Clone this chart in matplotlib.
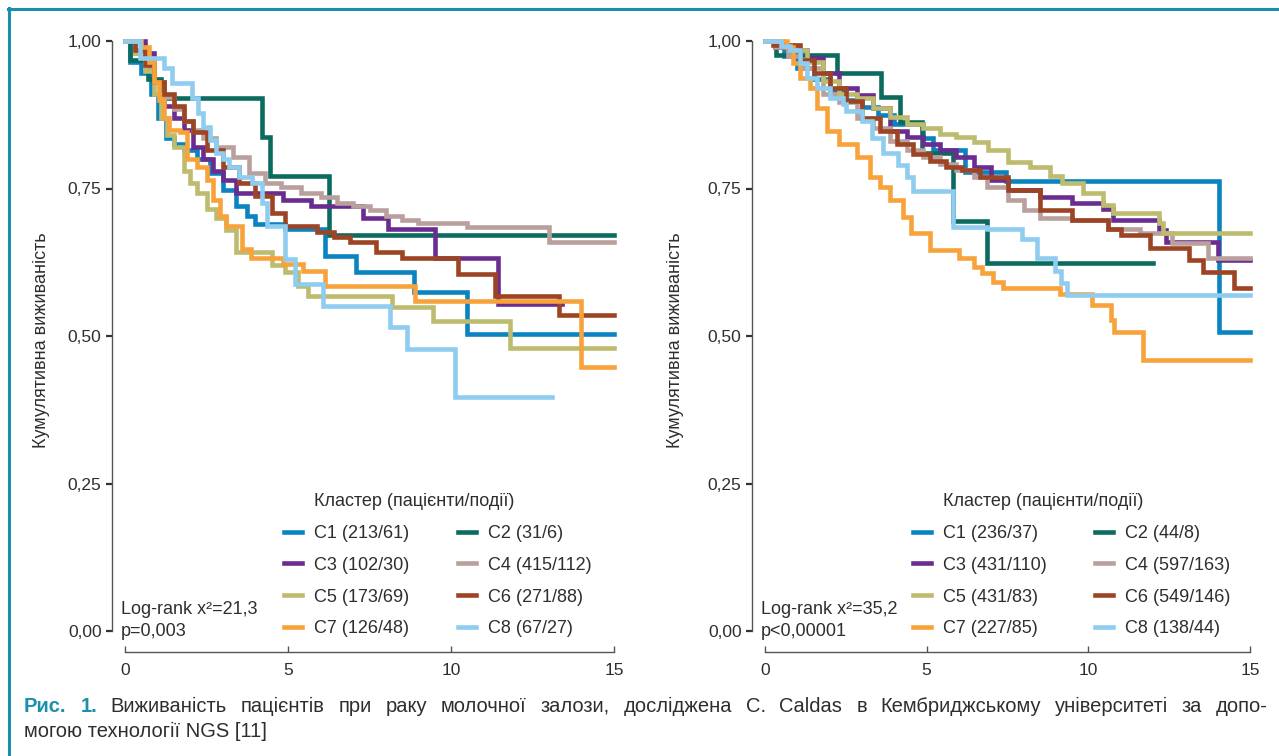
import matplotlib.pyplot as plt
from matplotlib.lines import Line2D

plt.rcParams['font.family'] = ['Liberation Sans', 'DejaVu Sans']

W, H = 1279, 756

# cluster colours (C1..C8)
colors = ['#0a84c0', '#0b6b5e', '#6a2c8e', '#b9a09c',
          '#bdbb6e', '#9c4423', '#f7a23a', '#8ecdf0']

# ---- left panel: time (years) / cumulative survival
L1_t = [0, 0.15, 0.5, 0.8, 1.0, 1.25, 1.5, 1.8, 2.2, 2.6, 3.0, 3.4, 3.75, 4.0, 4.9, 6.15, 7.1, 8.85, 10.5, 15]
L1_s = [1.0, 0.965, 0.945, 0.91, 0.87, 0.835, 0.825, 0.815, 0.80, 0.777, 0.748, 0.72, 0.703, 0.69, 0.682, 0.636, 0.608, 0.574, 0.503, 0.503]
L2_t = [0, 0.15, 0.7, 1.1, 4.2, 4.45, 6.25, 15]
L2_s = [1.0, 0.968, 0.935, 0.904, 0.838, 0.771, 0.672, 0.672]
L3_t = [0, 0.6, 0.9, 1.2, 1.5, 1.8, 2.1, 2.4, 2.7, 3.0, 3.4, 4.85, 5.7, 7.3, 8.07, 9.5, 11.45, 13.4]
L3_s = [1.0, 0.98, 0.93, 0.89, 0.87, 0.85, 0.82, 0.80, 0.78, 0.765, 0.743, 0.731, 0.72, 0.70, 0.681, 0.633, 0.554, 0.554]
L4_t = [0, 0.3, 0.6, 0.9, 1.2, 1.5, 1.8, 2.1, 2.4, 2.8, 3.3, 3.8, 4.3, 4.8, 5.4, 6.0, 6.5, 7.0, 7.5, 8.0, 8.5, 9.0, 10.5, 13.0, 15]
L4_s = [1.0, 0.98, 0.955, 0.93, 0.905, 0.885, 0.865, 0.85, 0.835, 0.82, 0.804, 0.777, 0.76, 0.752, 0.743, 0.735, 0.726, 0.72, 0.714, 0.703, 0.697, 0.692, 0.684, 0.659, 0.659]
L5_t = [0, 0.3, 0.6, 0.9, 1.1, 1.3, 1.5, 1.8, 2.0, 2.2, 2.5, 2.8, 3.1, 3.4, 4.5, 4.9, 5.3, 5.6, 8.2, 9.45, 11.8, 15]
L5_s = [1.0, 0.98, 0.95, 0.91, 0.87, 0.84, 0.82, 0.78, 0.76, 0.743, 0.715, 0.70, 0.68, 0.642, 0.62, 0.608, 0.585, 0.568, 0.549, 0.526, 0.48, 0.48]
L6_t = [0, 0.3, 0.6, 0.9, 1.2, 1.5, 1.8, 2.1, 2.5, 3.0, 3.5, 4.0, 4.5, 4.9, 5.9, 6.4, 6.9, 7.7, 8.5, 10.2, 11.35, 13.3, 15]
L6_s = [1.0, 0.985, 0.96, 0.93, 0.91, 0.889, 0.865, 0.845, 0.816, 0.787, 0.76, 0.737, 0.709, 0.686, 0.677, 0.667, 0.659, 0.642, 0.633, 0.605, 0.568, 0.535, 0.535]
L7_t = [0, 0.5, 0.75, 0.9, 1.05, 1.2, 1.35, 1.7, 1.9, 2.2, 2.5, 2.7, 2.9, 3.1, 3.6, 3.85, 4.85, 5.45, 6.15, 8.9, 14.0, 15]
L7_s = [1.0, 0.99, 0.965, 0.93, 0.90, 0.87, 0.85, 0.845, 0.80, 0.787, 0.765, 0.731, 0.703, 0.686, 0.647, 0.633, 0.622, 0.61, 0.584, 0.559, 0.447, 0.447]
L8_t = [0, 0.45, 1.2, 1.45, 2.05, 2.25, 2.4, 2.6, 2.8, 3.0, 3.2, 3.5, 3.9, 4.2, 4.35, 4.9, 5.2, 6.08, 8.13, 8.64, 10.12, 13.1]
L8_s = [1.0, 0.971, 0.954, 0.929, 0.904, 0.878, 0.855, 0.833, 0.81, 0.80, 0.787, 0.77, 0.76, 0.726, 0.686, 0.63, 0.588, 0.551, 0.515, 0.478, 0.397, 0.397]

# ---- right panel
R1_t = [0, 0.3, 0.6, 1.0, 1.5, 2.0, 2.5, 3.0, 3.5, 4.0, 4.9, 5.2, 6.2, 7.45, 14.05, 15]
R1_s = [1.0, 0.99, 0.975, 0.955, 0.935, 0.915, 0.90, 0.888, 0.875, 0.86, 0.835, 0.815, 0.778, 0.762, 0.507, 0.507]
R2_t = [0, 0.35, 2.22, 3.6, 4.18, 4.85, 5.8, 6.86, 12.0]
R2_s = [1.0, 0.977, 0.945, 0.905, 0.862, 0.81, 0.695, 0.624, 0.624]
R3_t = [0, 0.3, 0.8, 1.3, 1.8, 2.3, 2.85, 3.35, 3.87, 4.38, 4.9, 5.4, 5.9, 6.45, 7.0, 7.5, 8.5, 9.5, 10.46, 10.77, 12.2, 12.4, 14.0, 15]
R3_s = [1.0, 0.99, 0.985, 0.972, 0.945, 0.921, 0.908, 0.887, 0.848, 0.837, 0.826, 0.815, 0.803, 0.786, 0.765, 0.747, 0.735, 0.725, 0.716, 0.696, 0.679, 0.659, 0.628, 0.628]
R4_t = [0, 0.3, 0.7, 1.08, 1.8, 2.3, 2.85, 3.35, 3.87, 4.38, 4.9, 5.4, 5.9, 6.45, 6.86, 7.5, 8.0, 8.5, 9.5, 10.6, 11.6, 12.6, 13.7, 15]
R4_s = [1.0, 0.99, 0.975, 0.954, 0.911, 0.896, 0.87, 0.853, 0.831, 0.815, 0.803, 0.792, 0.781, 0.769, 0.752, 0.73, 0.713, 0.70, 0.696, 0.682, 0.674, 0.657, 0.633, 0.633]
R5_t = [0, 0.55, 1.03, 1.3, 1.8, 2.3, 2.85, 3.35, 3.87, 4.38, 4.9, 5.4, 5.9, 6.45, 6.9, 7.5, 8.2, 8.8, 9.2, 9.85, 10.46, 10.77, 12.2, 12.3, 15]
R5_s = [1.0, 0.993, 0.984, 0.964, 0.933, 0.911, 0.903, 0.887, 0.871, 0.86, 0.852, 0.843, 0.837, 0.828, 0.815, 0.795, 0.786, 0.772, 0.759, 0.742, 0.722, 0.708, 0.691, 0.674, 0.674]
R6_t = [0, 0.26, 1.08, 1.5, 2.0, 2.5, 3.0, 3.55, 4.07, 4.58, 5.1, 5.6, 6.1, 6.65, 7.5, 8.5, 9.5, 10.6, 11.0, 11.9, 13.1, 13.55, 14.5, 15]
R6_s = [1.0, 0.993, 0.967, 0.945, 0.921, 0.899, 0.87, 0.848, 0.826, 0.809, 0.797, 0.786, 0.781, 0.769, 0.747, 0.713, 0.696, 0.682, 0.671, 0.65, 0.628, 0.608, 0.581, 0.581]
R7_t = [0, 0.67, 0.88, 1.08, 1.4, 1.6, 1.91, 2.3, 2.85, 3.25, 3.55, 3.87, 4.27, 4.5, 5.1, 6.0, 6.45, 6.7, 7.05, 7.37, 9.12, 10.1, 10.7, 10.8, 11.7, 15]
R7_s = [1.0, 0.989, 0.962, 0.938, 0.921, 0.887, 0.848, 0.826, 0.803, 0.769, 0.752, 0.73, 0.701, 0.675, 0.645, 0.632, 0.617, 0.606, 0.591, 0.581, 0.571, 0.552, 0.527, 0.507, 0.459, 0.459]
R8_t = [0, 0.5, 0.77, 1.08, 1.3, 1.6, 2.0, 2.4, 2.5, 3.0, 3.3, 3.65, 4.1, 4.4, 4.58, 5.8, 6.86, 7.95, 8.4, 8.97, 9.15, 9.34, 15]
R8_s = [1.0, 0.992, 0.984, 0.962, 0.938, 0.921, 0.904, 0.894, 0.882, 0.865, 0.835, 0.81, 0.79, 0.77, 0.745, 0.685, 0.682, 0.665, 0.633, 0.61, 0.59, 0.569, 0.569]

left_labels = ['C1 (213/61)', 'C2 (31/6)', 'C3 (102/30)', 'C4 (415/112)',
               'C5 (173/69)', 'C6 (271/88)', 'C7 (126/48)', 'C8 (67/27)']
right_labels = ['C1 (236/37)', 'C2 (44/8)', 'C3 (431/110)', 'C4 (597/163)',
                'C5 (431/83)', 'C6 (549/146)', 'C7 (227/85)', 'C8 (138/44)']
left_stats = ['Log-rank x²=21,3', 'p=0,003']
right_stats = ['Log-rank x²=35,2', 'p<0,00001']

yticks = [0, 0.25, 0.5, 0.75, 1.0]
ytick_labels = ['0,00', '0,25', '0,50', '0,75', '1,00']
xticks = [0, 5, 10, 15]

caption_line1 = ('Рис. 1. Виживаність пацієнтів при раку молочної залози, '
                 'досліджена C. Caldas в Кембриджському університеті за допо-')
caption_line2 = 'могою технології NGS [11]'

left_curves = [(L1_t, L1_s), (L2_t, L2_s), (L3_t, L3_s), (L4_t, L4_s),
               (L5_t, L5_s), (L6_t, L6_s), (L7_t, L7_s), (L8_t, L8_s)]
right_curves = [(R1_t, R1_s), (R2_t, R2_s), (R3_t, R3_s), (R4_t, R4_s),
                (R5_t, R5_s), (R6_t, R6_s), (R7_t, R7_s), (R8_t, R8_s)]

TXT = '#2e2e2e'
TEAL = '#1b8fab'

fig = plt.figure(figsize=(W / 100, H / 100), dpi=100)


def px(x, y):
    return x / W, 1 - y / H


def panel(x0, x1, curves, labels, stats, ylab_x, leg_x):
    ax = fig.add_axes([x0 / W, 1 - 631 / H, (x1 - x0) / W, (631 - 41) / H])
    lines = []
    for (t, s), c in zip(curves, colors):
        ln, = ax.step(t, s, where='post', color=c, lw=3.3, clip_on=False,
                      solid_joinstyle='miter')
        lines.append(ln)
    ax.set_xlim(0, 15)
    ax.set_ylim(0, 1)
    for side in ['top', 'right']:
        ax.spines[side].set_visible(False)
    ax.spines['left'].set_position(('outward', 9.4))
    ax.spines['bottom'].set_position(('outward', 15))
    ax.spines['left'].set_bounds(0, 1)
    ax.spines['bottom'].set_bounds(0, 15)
    for sp in ['left', 'bottom']:
        ax.spines[sp].set_color('#555555')
        ax.spines[sp].set_linewidth(1.0)
    ax.set_yticks(yticks)
    ax.set_yticklabels(ytick_labels)
    ax.set_xticks(xticks)
    ax.tick_params(axis='y', direction='out', length=4.5, width=1.6,
                   color='#333333', labelsize=12.5, labelcolor=TXT, pad=3)
    ax.tick_params(axis='x', direction='in', length=4.5, width=1.0,
                   color='#555555', labelsize=12.5, labelcolor=TXT, pad=8)

    fig.text(*px(ylab_x, 340), 'Кумулятивна виживаність', rotation=90,
             ha='center', va='center', fontsize=13, color=TXT)

    # legend: column-first order C1,C3,C5,C7 | C2,C4,C6,C8
    order = [0, 2, 4, 6, 1, 3, 5, 7]
    ax.legend([lines[i] for i in order], [labels[i] for i in order], ncol=2,
              loc='upper left', bbox_to_anchor=px(leg_x, 525),
              bbox_transform=fig.transFigure, frameon=False, fontsize=13,
              handlelength=1.0, handletextpad=0.65, columnspacing=2.7,
              labelspacing=0.82, borderpad=0, borderaxespad=0,
              labelcolor=TXT)
    fig.text(*px(leg_x + 30, 501), 'Кластер (пацієнти/події)', ha='left',
             va='center', fontsize=13, color=TXT)
    fig.text(*px(x0 - 4, 609), stats[0], ha='left', va='center',
             fontsize=13, color=TXT)
    fig.text(*px(x0 - 4, 631), stats[1], ha='left', va='center',
             fontsize=13, color=TXT)
    return ax


panel(125, 614, left_curves, left_labels, left_stats, 42, 284)
panel(765, 1250, right_curves, right_labels, right_stats, 675, 913)

# teal frame (top and left edges)
fig.add_artist(Line2D([8 / W, 1], [1 - 8.5 / H, 1 - 8.5 / H], color=TEAL,
                      lw=2.2, transform=fig.transFigure))
fig.add_artist(Line2D([8.5 / W, 8.5 / W], [1 - 7.5 / H, 0], color=TEAL,
                      lw=2.2, transform=fig.transFigure))

# caption, first line justified between x=24 and x=1268
CAP_X0, CAP_X1 = 24, 1268
words = caption_line1.split(' ')
renderer = fig.canvas.get_renderer()
word_texts = []
for i, w in enumerate(words):
    bold = i < 2
    t = fig.text(0, 1 - 706 / H, w, ha='left', va='center', fontsize=14.5,
                 fontweight='bold' if bold else 'normal',
                 color=TEAL if bold else TXT)
    word_texts.append(t)
widths = [t.get_window_extent(renderer).width for t in word_texts]
gap = (CAP_X1 - CAP_X0 - sum(widths)) / (len(words) - 1)
x = CAP_X0
for t, wd in zip(word_texts, widths):
    t.set_x(x / W)
    x += wd + gap
fig.text(*px(CAP_X0, 731), caption_line2, ha='left', va='center',
         fontsize=14.5, color=TXT)

fig.savefig('out.png', dpi=100)
